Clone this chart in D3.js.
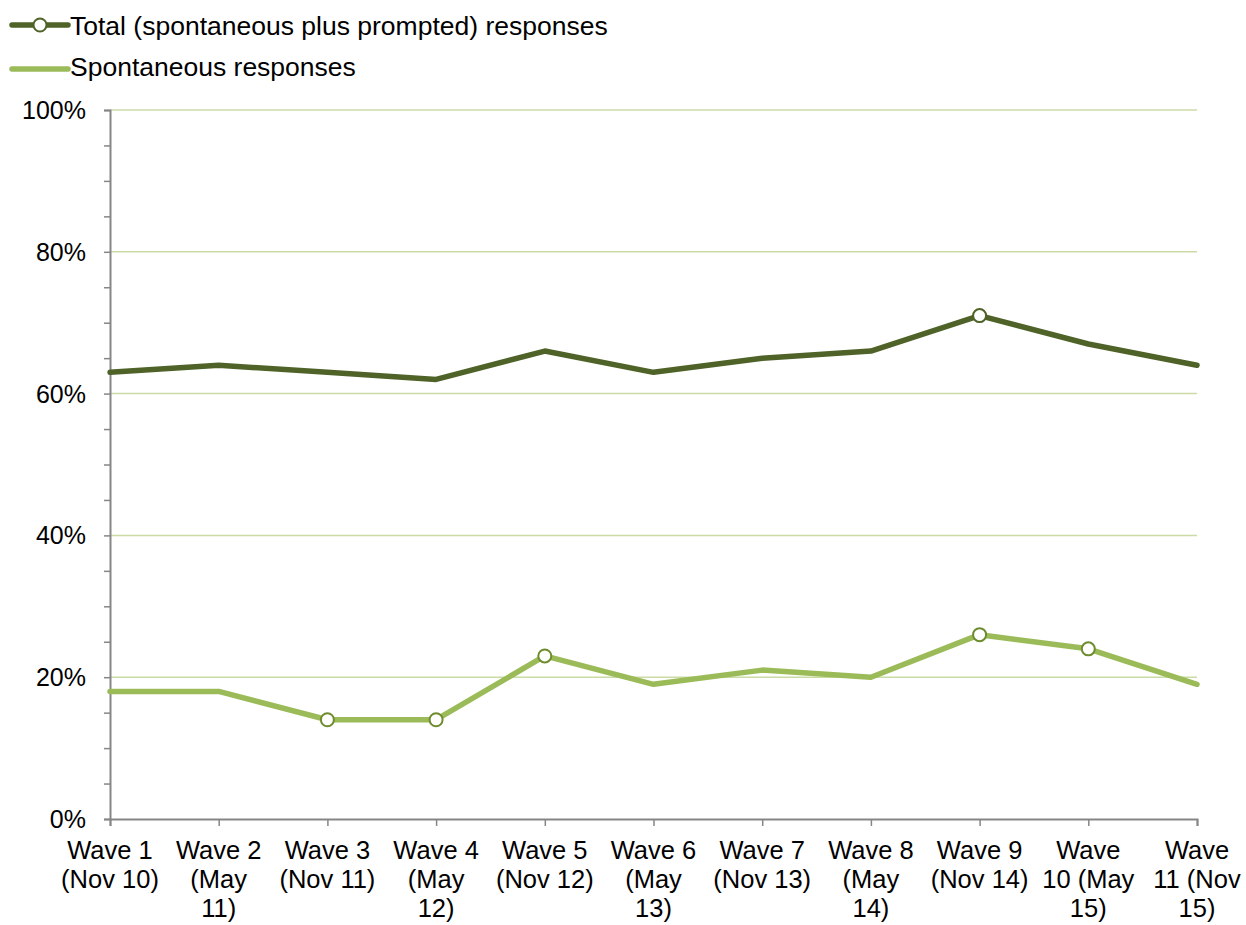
<!DOCTYPE html>
<html><head><meta charset="utf-8">
<script src="https://cdn.jsdelivr.net/npm/d3@7"></script>
<style>body{margin:0;background:#fff}svg{display:block;font-family:Arial,"Liberation Sans",sans-serif}</style>
</head><body><svg id="c" width="1246" height="925"></svg>
<script>
const categories = ["W1","W2","W3","W4","W5","W6","W7","W8","W9","W10","W11"];
const tickLabels = [
  ["Wave 1","(Nov 10)"],["Wave 2","(May","11)"],["Wave 3","(Nov 11)"],["Wave 4","(May","12)"],
  ["Wave 5","(Nov 12)"],["Wave 6","(May","13)"],["Wave 7","(Nov 13)"],["Wave 8","(May","14)"],
  ["Wave 9","(Nov 14)"],["Wave","10 (May","15)"],["Wave","11 (Nov","15)"]
];
const totalValues = [63,64,63,62,66,63,65,66,71,67,64];
const spontValues = [18,18,14,14,23,19,21,20,26,24,19];
const totalMarked = [false,false,false,false,false,false,false,false,true,false,false];
const spontMarked = [false,false,true,true,true,false,false,false,true,true,false];
const yTicks = [0,20,40,60,80,100];
const seriesNames = ["Total (spontaneous plus prompted) responses","Spontaneous responses"];

const svg = d3.select("#c");
const L=110,R=1197,T=110,B=819;
const x = d3.scalePoint().domain(categories).range([L,R]);
const y = d3.scaleLinear().domain([0,100]).range([B,T]);

// gridlines
svg.append("g").selectAll("line").data(yTicks.filter(d=>d>0)).join("line")
  .attr("x1",L).attr("x2",R).attr("y1",d=>y(d)).attr("y2",d=>y(d))
  .attr("stroke","#CADBA6").attr("stroke-width",1.5);

// y axis with minor ticks
const yAxis = d3.axisLeft(y).tickValues(d3.range(0,101,5)).tickSize(6).tickFormat("");
const ya = svg.append("g").attr("transform",`translate(${L},0)`).call(yAxis);
ya.select(".domain").attr("stroke","#868686").attr("stroke-width",2);
ya.selectAll(".tick line").attr("stroke","#868686").attr("stroke-width",1.5);
svg.append("g").selectAll("text").data(yTicks).join("text")
  .attr("x",86).attr("y",d=>y(d)).attr("dy","0.36em").attr("text-anchor","end")
  .attr("font-size",25).attr("fill","#000").text(d=>d+"%");

// x axis
const xAxis = d3.axisBottom(x).tickSize(7).tickFormat("");
const xa = svg.append("g").attr("transform",`translate(0,${B})`).call(xAxis);
xa.select(".domain").attr("stroke","#868686").attr("stroke-width",2);
xa.selectAll(".tick line").attr("stroke","#868686").attr("stroke-width",1.5);
const xl = svg.append("g").selectAll("text").data(categories).join("text")
  .attr("text-anchor","middle").attr("font-size",25.5).attr("fill","#000");
xl.each(function(d,i){
  const t=d3.select(this);
  tickLabels[i].forEach((ln,j)=>{
    t.append("tspan").attr("x",x(d)).attr("y",859+j*29).text(ln);
  });
});

// lines
const line = d3.line().x((d,i)=>x(categories[i])).y(d=>y(d));
const series = [
  {vals:totalValues, marks:totalMarked, color:"#4F6228", mstroke:"#4F6228"},
  {vals:spontValues, marks:spontMarked, color:"#9BBB59", mstroke:"#6E8C2E"}
];
series.forEach(s=>{
  svg.append("path").datum(s.vals).attr("d",line).attr("fill","none")
    .attr("stroke",s.color).attr("stroke-width",5.5).attr("stroke-linejoin","round").attr("stroke-linecap","round");
  svg.append("g").selectAll("circle").data(s.vals.map((v,i)=>({v,i})).filter(d=>s.marks[d.i])).join("circle")
    .attr("cx",d=>x(categories[d.i])).attr("cy",d=>y(d.v)).attr("r",6.5)
    .attr("fill","#fff").attr("stroke",s.mstroke).attr("stroke-width",2);
});

// legend
const lg = svg.append("g");
[[0,25,35],[1,69,76]].forEach(([i,yy,tb])=>{
  const s=series[i];
  lg.append("line").attr("x1",12).attr("x2",68).attr("y1",yy).attr("y2",yy)
    .attr("stroke",s.color).attr("stroke-width",5.5).attr("stroke-linecap","round");
  if(i===0) lg.append("circle").attr("cx",40).attr("cy",yy).attr("r",6.5).attr("fill","#fff").attr("stroke",s.mstroke).attr("stroke-width",2);
  lg.append("text").attr("x",70).attr("y",tb).attr("font-size",26.5).attr("fill","#000").text(seriesNames[i]);
});
</script></body></html>
